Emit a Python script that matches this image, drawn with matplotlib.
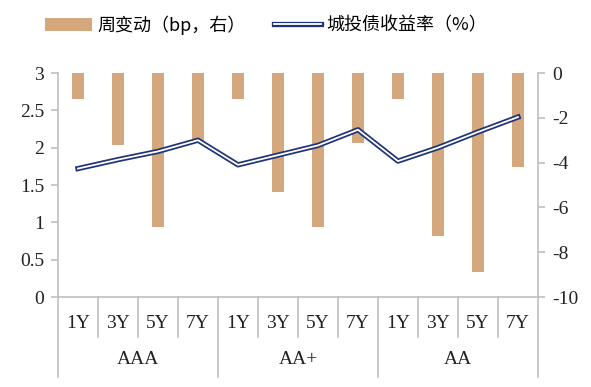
import numpy as np
import matplotlib
matplotlib.use("Agg")
import matplotlib.pyplot as plt
import matplotlib.patheffects as pe
from matplotlib.transforms import blended_transform_factory
from matplotlib.patches import Patch
from matplotlib.lines import Line2D

# data
groups = ["AAA", "AA+", "AA"]
tenors = ["1Y", "3Y", "5Y", "7Y"]
weekly_change = [-1.15, -3.2, -6.86, -3.1,
                 -1.15, -5.3, -6.86, -3.14,
                 -1.15, -7.28, -8.87, -4.21]
yield_rate = [1.72, 1.84, 1.95, 2.10,
              1.77, 1.90, 2.03, 2.24,
              1.82, 2.00, 2.21, 2.41]

bar_color = "#D4A77C"
line_color = "#1F3478"
axis_color = "#BFBFBF"
serif = ["Liberation Serif", "DejaVu Serif"]
cjk = ["Noto Sans CJK SC", "DejaVu Sans"]

W, H = 591, 387
fig = plt.figure(figsize=(W / 100, H / 100), dpi=100)
ax = fig.add_axes([58 / W, (H - 297) / H, 480 / W, 224 / H])
ax2 = ax.twinx()

x = np.arange(len(yield_rate))
ax2.bar(x, weekly_change, width=0.31, color=bar_color)
ax.plot(x, yield_rate, color="white", lw=1.3,
        path_effects=[pe.Stroke(linewidth=3.8, foreground=line_color), pe.Normal()])

ax.set_zorder(ax2.get_zorder() + 1)
ax.patch.set_visible(False)

ax.set_xlim(-0.5, len(x) - 0.5)
ax.set_ylim(0, 3)
ax2.set_ylim(-10, 0)
ax.set_yticks(np.arange(0, 3.01, 0.5))
ax.set_yticklabels(["0", "0.5", "1", "1.5", "2", "2.5", "3"])
ax2.set_yticks(np.arange(-10, 0.1, 2))
ax2.set_yticklabels([str(v) for v in range(-10, 1, 2)])

for a in (ax, ax2):
    for s in a.spines.values():
        s.set_color(axis_color)
        s.set_linewidth(1.2)
    a.spines["top"].set_visible(False)
    a.tick_params(axis="y", colors=axis_color, length=5, width=1.2, pad=5,
                  labelsize=14, labelcolor="#222222")
    for lab in a.get_yticklabels():
        lab.set_fontfamily(serif)
ax.spines["right"].set_visible(False)
ax2.spines["left"].set_visible(False)
ax2.spines["bottom"].set_visible(False)
ax.set_xticks([])

# two-level category axis
tr = blended_transform_factory(ax.transData, ax.transAxes)
inner = 40 / 224
outer = 80 / 224
for i in range(len(x) + 1):
    depth = outer if i % 4 == 0 else inner
    ax.plot([i - 0.5, i - 0.5], [0, -depth], color=axis_color, lw=1.2,
            transform=tr, clip_on=False)
for i in x:
    ax.text(i, -26 / 224, tenors[i % 4], transform=tr, ha="center", va="center",
            fontsize=14, family=serif, color="#222222")
for g, name in enumerate(groups):
    ax.text(g * 4 + 1.5, -62 / 224, name, transform=tr, ha="center", va="center",
            fontsize=14, family=serif, color="#222222")

handles = [Patch(facecolor=bar_color, edgecolor="none"),
           Line2D([], [], color="white", lw=1.3,
                  path_effects=[pe.Stroke(linewidth=3.8, foreground=line_color), pe.Normal()])]
fig.legend(handles, ["周变动（bp，右）", "城投债收益率（%）"], loc="center",
           bbox_to_anchor=(0.45, 1 - 25 / H), ncol=2, frameon=False, handlelength=2.6,
           handleheight=0.8, handletextpad=0.3, columnspacing=1.6,
           prop={"family": cjk, "size": 13})

fig.savefig("out.png", dpi=100)
